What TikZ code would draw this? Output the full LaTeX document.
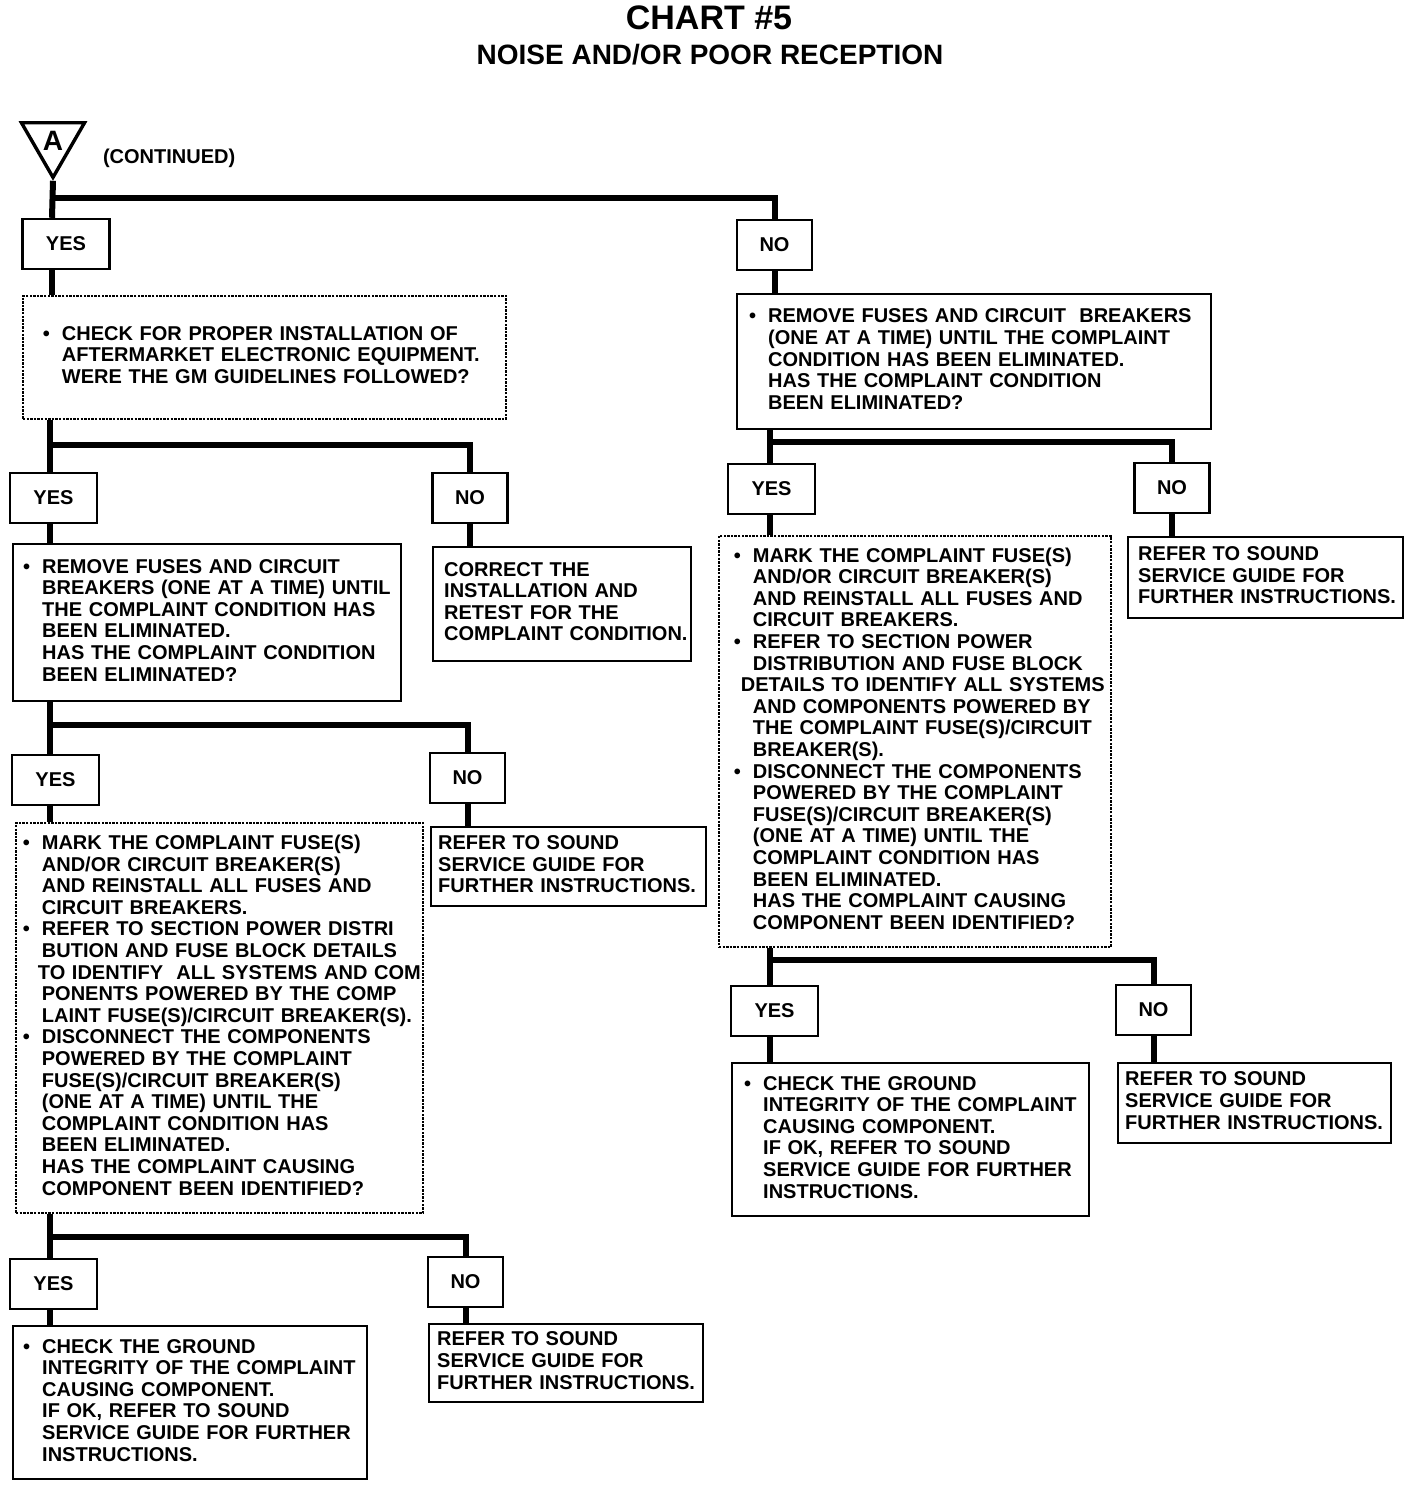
\documentclass[tikz,border=0pt]{standalone}
\usepackage{fontspec}
\setmainfont{Liberation Sans}
\usetikzlibrary{shapes.geometric}
\newcommand{\bul}{\makebox[9.5pt][l]{\textbullet}}
\newcommand{\ind}{\hspace*{9.5pt}}
\newcommand{\lines}[1]{\begin{tabular}{@{}l@{}}#1\end{tabular}}

\begin{document}
\begin{tikzpicture}[x=0.5pt, y=-0.5pt,
    every node/.style={font=\fontsize{10}{10.8}\selectfont\bfseries},
    conn/.style={line width=3pt},
    ans/.style={draw, line width=1.2pt, minimum height=25pt, inner sep=0pt},
    yesbox/.style={ans, minimum width=43.5pt},
    nobox/.style={ans, minimum width=37.5pt},
    panel/.style n args={3}{draw, line width=1.2pt, anchor=north west,
        minimum width=#1*0.5pt, minimum height=#2*0.5pt,
        inner xsep=#3*0.5pt, inner ysep=0pt,
        text width=(#1-2*#3)*0.5pt, align=left},
    dotbox/.style={line width=0.9pt, dash pattern=on 1.2pt off 0.6pt}]
    \useasboundingbox (0,0) rectangle (1424,1486);

    % Title
    \node[font=\fontsize{17}{17}\selectfont\bfseries] (title) at (709,18) {CHART \#5};
    \node[font=\fontsize{14}{14}\selectfont\bfseries] (subtitle) at (710,55) {NOISE AND/OR POOR RECEPTION};

    % Entry
    \node[draw, line width=1.7pt, regular polygon, regular polygon sides=3,
        shape border rotate=180, minimum size=36.4pt, inner sep=0pt,
        font=\fontsize{14}{14}\selectfont\bfseries] (tri) at (53,141) {A};
    \node[anchor=west] (cont) at (96,158) {(CONTINUED)};

    % Left column
    \node[yesbox] (yes1) at (66,244) {YES};
    \node[panel={483}{123}{20}, dotbox] (a1) at (22,295) {\lines{%
        \bul CHECK FOR PROPER INSTALLATION OF\\
        \ind AFTERMARKET ELECTRONIC EQUIPMENT.\\
        \ind WERE THE GM GUIDELINES FOLLOWED?}};

    \node[yesbox] (yes2) at (53.5,498) {YES};
    \node[nobox] (no2) at (470,498) {NO};
    \node[panel={388}{157}{10}] (b) at (12,543) {\lines{%
        \bul REMOVE FUSES AND CIRCUIT\\
        \ind BREAKERS (ONE AT A TIME) UNTIL\\
        \ind THE COMPLAINT CONDITION HAS\\
        \ind BEEN ELIMINATED.\\
        \ind HAS THE COMPLAINT CONDITION\\
        \ind BEEN ELIMINATED?}};
    \node[panel={258}{114}{11}] (c) at (432,546) {\lines{%
        CORRECT THE\\
        INSTALLATION AND\\
        RETEST FOR THE\\
        COMPLAINT CONDITION.}};

    \node[yesbox] (yes3) at (55.5,780) {YES};
    \node[nobox] (no3) at (467.5,778) {NO};
    \node[panel={407}{390}{7}, dotbox] (d) at (15,822) {\lines{%
        \bul MARK THE COMPLAINT FUSE(S)\\
        \ind AND/OR CIRCUIT BREAKER(S)\\
        \ind AND REINSTALL ALL FUSES AND\\
        \ind CIRCUIT BREAKERS.\\
        \bul REFER TO SECTION POWER DISTRI\\
        \ind BUTION AND FUSE BLOCK DETAILS\\
        \hspace*{7.5pt}TO IDENTIFY \ ALL SYSTEMS AND COM\\
        \ind PONENTS POWERED BY THE COMP\\
        \ind LAINT FUSE(S)/CIRCUIT BREAKER(S).\\
        \bul DISCONNECT THE COMPONENTS\\
        \ind POWERED BY THE COMPLAINT\\
        \ind FUSE(S)/CIRCUIT BREAKER(S)\\
        \ind (ONE AT A TIME) UNTIL THE\\
        \ind COMPLAINT CONDITION HAS\\
        \ind BEEN ELIMINATED.\\
        \ind HAS THE COMPLAINT CAUSING\\
        \ind COMPONENT BEEN IDENTIFIED?}};
    \node[panel={275}{79}{7}] (e) at (430,826) {\lines{%
        REFER TO SOUND\\
        SERVICE GUIDE FOR\\
        FURTHER INSTRUCTIONS.}};

    \node[yesbox] (yes4) at (53.5,1284) {YES};
    \node[nobox] (no4) at (465.5,1282) {NO};
    \node[panel={354}{153}{10}] (f) at (12,1325) {\lines{%
        \bul CHECK THE GROUND\\
        \ind INTEGRITY OF THE COMPLAINT\\
        \ind CAUSING COMPONENT.\\
        \ind IF OK, REFER TO SOUND\\
        \ind SERVICE GUIDE FOR FURTHER\\
        \ind INSTRUCTIONS.}};
    \node[panel={274}{78}{8}] (g) at (428,1323) {\lines{%
        REFER TO SOUND\\
        SERVICE GUIDE FOR\\
        FURTHER INSTRUCTIONS.}};

    % Right column
    \node[nobox] (no1) at (774.5,245) {NO};
    \node[panel={474}{135}{12}] (ra) at (736,293) {\lines{%
        \bul REMOVE FUSES AND CIRCUIT \ BREAKERS\\
        \ind (ONE AT A TIME) UNTIL THE COMPLAINT\\
        \ind CONDITION HAS BEEN ELIMINATED.\\
        \ind HAS THE COMPLAINT CONDITION\\
        \ind BEEN ELIMINATED?}};

    \node[yesbox] (yesr2) at (771.5,489) {YES};
    \node[nobox] (nor2) at (1172,488) {NO};
    \node[panel={392}{411}{15}, dotbox] (rb) at (718,535) {\lines{%
        \bul MARK THE COMPLAINT FUSE(S)\\
        \ind AND/OR CIRCUIT BREAKER(S)\\
        \ind AND REINSTALL ALL FUSES AND\\
        \ind CIRCUIT BREAKERS.\\
        \bul REFER TO SECTION POWER\\
        \ind DISTRIBUTION AND FUSE BLOCK\\
        \hspace*{3.5pt}DETAILS TO IDENTIFY ALL SYSTEMS\\
        \ind AND COMPONENTS POWERED BY\\
        \ind THE COMPLAINT FUSE(S)/CIRCUIT\\
        \ind BREAKER(S).\\
        \bul DISCONNECT THE COMPONENTS\\
        \ind POWERED BY THE COMPLAINT\\
        \ind FUSE(S)/CIRCUIT BREAKER(S)\\
        \ind (ONE AT A TIME) UNTIL THE\\
        \ind COMPLAINT CONDITION HAS\\
        \ind BEEN ELIMINATED.\\
        \ind HAS THE COMPLAINT CAUSING\\
        \ind COMPONENT BEEN IDENTIFIED?}};
    \node[panel={275}{81}{10}] (rc) at (1127,536) {\lines{%
        REFER TO SOUND\\
        SERVICE GUIDE FOR\\
        FURTHER INSTRUCTIONS.}};

    \node[yesbox] (yesr3) at (774.5,1011) {YES};
    \node[nobox] (nor3) at (1153.5,1010) {NO};
    \node[panel={357}{153}{12}] (rd) at (731,1062) {\lines{%
        \bul CHECK THE GROUND\\
        \ind INTEGRITY OF THE COMPLAINT\\
        \ind CAUSING COMPONENT.\\
        \ind IF OK, REFER TO SOUND\\
        \ind SERVICE GUIDE FOR FURTHER\\
        \ind INSTRUCTIONS.}};
    \node[panel={273}{80}{7}] (re) at (1117,1062) {\lines{%
        REFER TO SOUND\\
        SERVICE GUIDE FOR\\
        FURTHER INSTRUCTIONS.}};

    % Junctions
    \coordinate (j1) at (52,198);
    \coordinate (j2) at (50,445);
    \coordinate (j3) at (50,725);
    \coordinate (j4) at (50,1237);
    \coordinate (j5) at (770,442);
    \coordinate (j6) at (770,960);

    % Connectors
    \draw[conn] (tri.south) -- (j1 |- yes1.north);
    \draw[conn] (j1) -| (no1.north);
    \draw[conn] (j1 |- yes1.south) -- (j1 |- a1.north);
    \draw[conn] (no1.south) -- (no1.south |- ra.north);

    \draw[conn] (j2 |- a1.south) -- (j2 |- yes2.north);
    \draw[conn] (j2) -| (no2.north);
    \draw[conn] (j2 |- yes2.south) -- (j2 |- b.north);
    \draw[conn] (no2.south) -- (no2.south |- c.north);

    \draw[conn] (j3 |- b.south) -- (j3 |- yes3.north);
    \draw[conn] (j3) -| (no3.north);
    \draw[conn] (j3 |- yes3.south) -- (j3 |- d.north);
    \draw[conn] (no3.south) -- (no3.south |- e.north);

    \draw[conn] (j4 |- d.south) -- (j4 |- yes4.north);
    \draw[conn] (j4) -| (no4.north);
    \draw[conn] (j4 |- yes4.south) -- (j4 |- f.north);
    \draw[conn] (no4.south) -- (no4.south |- g.north);

    \draw[conn] (j5 |- ra.south) -- (j5 |- yesr2.north);
    \draw[conn] (j5) -| (nor2.north);
    \draw[conn] (j5 |- yesr2.south) -- (j5 |- rb.north);
    \draw[conn] (nor2.south) -- (nor2.south |- rc.north);

    \draw[conn] (j6 |- rb.south) -- (j6 |- yesr3.north);
    \draw[conn] (j6) -| (nor3.north);
    \draw[conn] (j6 |- yesr3.south) -- (j6 |- rd.north);
    \draw[conn] (nor3.south) -- (nor3.south |- re.north);
\end{tikzpicture}
\end{document}
